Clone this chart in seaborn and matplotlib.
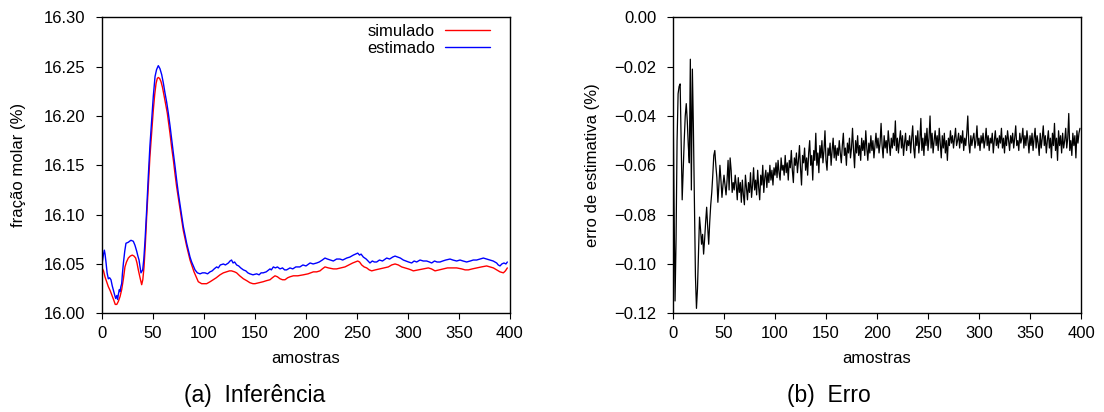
import matplotlib
matplotlib.use("Agg")
import matplotlib.pyplot as plt
import seaborn as sns
import numpy as np
import pandas as pd

# ---------------- data ----------------
amostras_sim = [0, 1.5, 2.9, 4.5, 6.2, 8, 9.5, 11.3, 13, 14.5, 16, 17.7, 19.3, 21, 22.5, 24, 25.8, 27.7, 29.7, 31.4,
                33, 34.3, 35.6, 37.3, 38.9, 40, 41.2, 42.5, 43.8, 45.4, 47, 48.7, 50.3, 51.7, 53, 54.2, 55.2, 56.5, 57.8, 59.3,
                60.8, 62.4, 64, 65.3, 66.7, 68.3, 70, 71.6, 73.2, 74.8, 76.5, 78.1, 79.7, 81.4, 83, 84.7, 86.3, 88.2, 90.2, 92.3,
                94.4, 96, 97.7, 100, 102.6, 106, 109, 112, 115.7, 119, 122, 125, 127, 130, 132, 135, 138.6, 142, 145, 148,
                150, 154, 158, 161, 164.7, 167, 169.6, 172, 174.5, 177, 179.4, 182, 184.3, 187.6, 192, 197.4, 202, 207.2, 210.5, 213.7,
                216, 218.6, 222, 226.8, 230, 234, 238.2, 242, 245.8, 250.7, 252.5, 254.6, 257, 259.5, 262, 264.4, 268, 272.5, 276.5, 280.7,
                284, 287.3, 290.5, 293.8, 297, 300.3, 303, 305.2, 310, 315, 319.9, 323, 326.5, 330.5, 334.6, 338.7, 342.8, 347.7, 352.6, 356,
                359.2, 363, 367.3, 372, 377.1, 380.5, 383.7, 387, 390.2, 393.5, 395.5, 397.4]
fracao_sim = [16.046, 16.043, 16.037, 16.032, 16.027, 16.023, 16.019, 16.014, 16.009, 16.009, 16.012, 16.017, 16.024, 16.035, 16.047, 16.052, 16.056, 16.058, 16.059, 16.058,
              16.056, 16.051, 16.044, 16.036, 16.029, 16.034, 16.047, 16.070, 16.098, 16.129, 16.159, 16.184, 16.206, 16.222, 16.233, 16.238, 16.239, 16.238, 16.235, 16.229,
              16.221, 16.212, 16.203, 16.193, 16.182, 16.168, 16.155, 16.141, 16.128, 16.117, 16.106, 16.095, 16.084, 16.076, 16.068, 16.061, 16.054, 16.048, 16.042, 16.037,
              16.032, 16.031, 16.030, 16.030, 16.030, 16.032, 16.034, 16.036, 16.039, 16.041, 16.042, 16.043, 16.043, 16.042, 16.041, 16.038, 16.035, 16.033, 16.031, 16.030,
              16.030, 16.031, 16.032, 16.033, 16.034, 16.036, 16.038, 16.037, 16.035, 16.034, 16.034, 16.036, 16.037, 16.038, 16.038, 16.039, 16.040, 16.042, 16.042, 16.043,
              16.045, 16.047, 16.046, 16.045, 16.045, 16.046, 16.047, 16.049, 16.051, 16.053, 16.052, 16.049, 16.047, 16.046, 16.044, 16.043, 16.044, 16.045, 16.046, 16.047,
              16.049, 16.050, 16.049, 16.047, 16.046, 16.045, 16.044, 16.043, 16.044, 16.045, 16.046, 16.045, 16.043, 16.044, 16.045, 16.046, 16.046, 16.046, 16.045, 16.044,
              16.044, 16.045, 16.046, 16.047, 16.048, 16.047, 16.046, 16.044, 16.042, 16.041, 16.043, 16.046]

amostras_est = [0, 1.5, 2.3, 3, 4, 5, 6.2, 7.5, 8.8, 10, 11, 12.3, 13.4, 14.5, 15.3, 16, 17, 17.6, 18.5, 19.3,
                20, 21, 22.3, 23.5, 25.8, 27, 28.4, 30.7, 32.3, 34, 35.2, 36.3, 38.2, 39.9, 41, 42.2, 43.8, 45.4, 47, 48.7,
                50.3, 52, 53.5, 55.2, 56.8, 58.5, 60.2, 61.8, 63.4, 65, 66.7, 68.3, 70, 71.6, 73.2, 74.8, 76.5, 78.1, 79.7, 81.4,
                83, 84.6, 86.3, 87.9, 89.5, 91.2, 93.5, 96.1, 98.5, 101, 103.5, 105.9, 108, 110, 112.4, 114, 116, 119, 121, 123.9,
                125.5, 127, 128.5, 130, 132, 134, 136, 138.6, 141, 143, 145, 148, 151.6, 154, 156, 158, 161, 164.7, 166, 168,
                170, 172, 174.5, 177, 179, 181, 184.3, 187, 190, 194, 197, 200, 204, 207, 210.5, 213, 216, 218.6, 221, 224,
                226.8, 230, 233.3, 236, 239.9, 243, 246.4, 248.5, 250.7, 252.5, 254, 256.2, 259, 262.7, 265, 267, 269.3, 272, 275, 279.1,
                282, 285, 287.3, 290, 292.5, 295.4, 298, 300.5, 303.6, 306, 308.5, 311.8, 315, 318.3, 321, 323.2, 326, 328.5, 331.4, 334,
                337, 341.2, 344, 347.7, 351, 354, 357.5, 361, 364, 367.3, 370.5, 373.9, 377, 380.4, 383.5, 386.9, 388.5, 390.2, 392, 394.1,
                396, 397.4]
fracao_est = [16.050, 16.060, 16.064, 16.060, 16.051, 16.041, 16.035, 16.036, 16.034, 16.028, 16.024, 16.019, 16.015, 16.018, 16.014, 16.019, 16.024, 16.022, 16.027, 16.030,
              16.040, 16.051, 16.063, 16.071, 16.072, 16.073, 16.074, 16.073, 16.069, 16.063, 16.058, 16.054, 16.041, 16.044, 16.055, 16.074, 16.105, 16.139, 16.170, 16.196,
              16.220, 16.240, 16.247, 16.251, 16.248, 16.242, 16.233, 16.223, 16.214, 16.203, 16.190, 16.176, 16.162, 16.149, 16.135, 16.122, 16.110, 16.098, 16.088, 16.079,
              16.071, 16.064, 16.057, 16.052, 16.048, 16.044, 16.041, 16.040, 16.041, 16.041, 16.040, 16.042, 16.043, 16.045, 16.047, 16.046, 16.049, 16.050, 16.049, 16.051,
              16.053, 16.054, 16.051, 16.052, 16.049, 16.048, 16.046, 16.044, 16.043, 16.041, 16.040, 16.039, 16.040, 16.039, 16.041, 16.041, 16.042, 16.045, 16.044, 16.047,
              16.046, 16.047, 16.045, 16.046, 16.044, 16.044, 16.046, 16.045, 16.047, 16.047, 16.049, 16.048, 16.051, 16.050, 16.051, 16.052, 16.054, 16.056, 16.055, 16.054,
              16.053, 16.055, 16.055, 16.054, 16.056, 16.057, 16.059, 16.060, 16.061, 16.059, 16.060, 16.057, 16.055, 16.051, 16.053, 16.052, 16.052, 16.054, 16.053, 16.056,
              16.055, 16.057, 16.058, 16.057, 16.056, 16.054, 16.053, 16.052, 16.051, 16.053, 16.052, 16.054, 16.053, 16.053, 16.052, 16.051, 16.053, 16.052, 16.052, 16.053,
              16.054, 16.055, 16.054, 16.053, 16.054, 16.053, 16.052, 16.053, 16.054, 16.054, 16.055, 16.056, 16.055, 16.054, 16.053, 16.051, 16.049, 16.048, 16.050, 16.051,
              16.050, 16.052]

erro = [
    -0.029, -0.075, -0.115, -0.090, -0.050, -0.031, -0.028, -0.027, -0.050, -0.074,
    -0.062, -0.050, -0.040, -0.035, -0.042, -0.052, -0.059, -0.017, -0.070, -0.021,
    -0.045, -0.075, -0.105, -0.118, -0.110, -0.095, -0.081, -0.086, -0.092, -0.088,
    -0.096, -0.090, -0.083, -0.077, -0.085, -0.092, -0.083, -0.076, -0.071, -0.064,
    -0.056, -0.054, -0.060, -0.065, -0.075, -0.068, -0.060, -0.066, -0.073, -0.068,
    -0.064, -0.068, -0.072, -0.066, -0.058, -0.070, -0.057, -0.062, -0.071, -0.067,
    -0.070, -0.064, -0.068, -0.074, -0.065, -0.071, -0.067, -0.075, -0.066, -0.072,
    -0.076, -0.064, -0.069, -0.074, -0.067, -0.071, -0.063, -0.073, -0.068, -0.061,
    -0.070, -0.066, -0.072, -0.062, -0.069, -0.074, -0.064, -0.068, -0.060, -0.071,
    -0.065, -0.062, -0.069, -0.063, -0.067, -0.060, -0.066, -0.062, -0.068, -0.061,
    -0.064, -0.059, -0.065, -0.058, -0.063, -0.066, -0.057, -0.062, -0.060, -0.064,
    -0.056, -0.063, -0.059, -0.066, -0.058, -0.061, -0.054, -0.062, -0.067, -0.057,
    -0.060, -0.055, -0.063, -0.058, -0.052, -0.061, -0.068, -0.056, -0.059, -0.053,
    -0.062, -0.057, -0.064, -0.055, -0.050, -0.060, -0.056, -0.066, -0.054, -0.058,
    -0.047, -0.060, -0.055, -0.063, -0.052, -0.057, -0.050, -0.059, -0.054, -0.046,
    -0.058, -0.062, -0.053, -0.056, -0.051, -0.060, -0.054, -0.049, -0.057, -0.052,
    -0.058, -0.053, -0.056, -0.050, -0.055, -0.059, -0.052, -0.047, -0.056, -0.053,
    -0.060, -0.051, -0.055, -0.049, -0.057, -0.053, -0.045, -0.054, -0.061, -0.050,
    -0.055, -0.048, -0.056, -0.052, -0.058, -0.049, -0.054, -0.050, -0.056, -0.046,
    -0.053, -0.058, -0.051, -0.055, -0.048, -0.054, -0.050, -0.057, -0.052, -0.047,
    -0.053, -0.049, -0.055, -0.051, -0.043, -0.052, -0.057, -0.048, -0.053, -0.050,
    -0.055, -0.046, -0.051, -0.056, -0.049, -0.053, -0.047, -0.052, -0.042, -0.054,
    -0.049, -0.055, -0.050, -0.046, -0.053, -0.048, -0.056, -0.051, -0.047, -0.054,
    -0.050, -0.052, -0.048, -0.055, -0.049, -0.044, -0.053, -0.057, -0.048, -0.052,
    -0.046, -0.055, -0.050, -0.041, -0.054, -0.049, -0.056, -0.047, -0.052, -0.045,
    -0.054, -0.049, -0.040, -0.053, -0.047, -0.055, -0.050, -0.046, -0.052, -0.048,
    -0.054, -0.045, -0.051, -0.057, -0.048, -0.053, -0.047, -0.055, -0.050, -0.058,
    -0.049, -0.052, -0.046, -0.051, -0.048, -0.053, -0.049, -0.045, -0.052, -0.050,
    -0.047, -0.053, -0.048, -0.051, -0.046, -0.054, -0.049, -0.052, -0.047, -0.040,
    -0.051, -0.055, -0.048, -0.052, -0.049, -0.047, -0.053, -0.050, -0.044, -0.052,
    -0.049, -0.054, -0.048, -0.051, -0.047, -0.053, -0.050, -0.045, -0.052, -0.048,
    -0.054, -0.049, -0.051, -0.047, -0.055, -0.050, -0.046, -0.052, -0.049, -0.053,
    -0.048, -0.051, -0.045, -0.053, -0.049, -0.055, -0.048, -0.052, -0.046, -0.050,
    -0.054, -0.048, -0.051, -0.047, -0.053, -0.049, -0.044, -0.052, -0.050, -0.054,
    -0.047, -0.051, -0.049, -0.045, -0.053, -0.048, -0.052, -0.046, -0.050, -0.055,
    -0.048, -0.052, -0.047, -0.054, -0.049, -0.045, -0.053, -0.048, -0.051, -0.056,
    -0.047, -0.053, -0.049, -0.044, -0.052, -0.048, -0.055, -0.050, -0.046, -0.053,
    -0.049, -0.057, -0.047, -0.052, -0.043, -0.054, -0.049, -0.058, -0.046, -0.052,
    -0.048, -0.055, -0.047, -0.053, -0.050, -0.045, -0.053, -0.049, -0.039, -0.054,
    -0.050, -0.056, -0.047, -0.052, -0.048, -0.057, -0.046, -0.051, -0.047, -0.045,
]
amostras_erro = list(range(len(erro)))

xticks = [0, 50, 100, 150, 200, 250, 300, 350, 400]
yticks_a = [16.00, 16.05, 16.10, 16.15, 16.20, 16.25, 16.30]
yticks_b = [-0.12, -0.10, -0.08, -0.06, -0.04, -0.02, 0.00]

# ---------------- style ----------------
sns.set_theme(style="ticks")
plt.rcParams['font.family'] = ['Liberation Sans', 'DejaVu Sans']
plt.rcParams['axes.unicode_minus'] = True
plt.rcParams['text.color'] = 'black'
plt.rcParams['axes.labelcolor'] = 'black'

W, H = 1104, 412
fig = plt.figure(figsize=(W / 100, H / 100), dpi=100)
ax1 = fig.add_axes([102 / W, (H - 313.3) / H, 408 / W, 296 / H])
ax2 = fig.add_axes([673 / W, (H - 313.3) / H, 408 / W, 296 / H])

df_sim = pd.DataFrame({"amostras": amostras_sim, "valor": fracao_sim})
df_est = pd.DataFrame({"amostras": amostras_est, "valor": fracao_est})
df_err = pd.DataFrame({"amostras": amostras_erro, "valor": erro})

sns.lineplot(data=df_sim, x="amostras", y="valor", color="#ff0000", lw=1.0,
             estimator=None, sort=False, ax=ax1, label="simulado")
sns.lineplot(data=df_est, x="amostras", y="valor", color="#0000ff", lw=1.0,
             estimator=None, sort=False, ax=ax1, label="estimado")
sns.lineplot(data=df_err, x="amostras", y="valor", color="black", lw=0.9,
             estimator=None, sort=False, ax=ax2, legend=False)

for ax, yt, ylab, lx in [
    (ax1, yticks_a, "fração molar (%)", -0.186),
    (ax2, yticks_b, "erro de estimativa (%)", -0.179),
]:
    ax.set_xlim(0, 400)
    ax.set_ylim(yt[0], yt[-1])
    ax.set_xticks(xticks)
    ax.set_xticklabels([str(t) for t in xticks])
    ax.set_yticks(yt)
    ax.set_yticklabels(["{:.2f}".format(t).replace("-", "\u2212") for t in yt])
    ax.tick_params(axis="both", direction="out", length=4, width=0.8,
                   colors="black", labelsize=12, top=False, right=False)
    ax.tick_params(axis="y", pad=8)
    ax.tick_params(axis="x", pad=5)
    for s in ax.spines.values():
        s.set_visible(True)
        s.set_color("black")
        s.set_linewidth(1.0)
    ax.set_xlabel("amostras", fontsize=12, color="black")
    ax.set_ylabel(ylab, fontsize=12, color="black")
    ax.xaxis.set_label_coords(0.5, -0.128)
    ax.yaxis.set_label_coords(lx, 0.5)
    ax.grid(False)

leg = ax1.legend(loc="upper right", bbox_to_anchor=(0.959, 0.99), frameon=False,
                 markerfirst=False, fontsize=12, handlelength=2.7, handletextpad=0.6,
                 labelspacing=0.15, borderpad=0.2, borderaxespad=0.0)
for t in leg.get_texts():
    t.set_color("black")

fig.text(254.5 / W, 1 - 401.7 / H, "(a)  Inferência", ha="center", va="baseline",
         fontsize=16.5, color="black")
fig.text(829 / W, 1 - 401.7 / H, "(b)  Erro", ha="center", va="baseline",
         fontsize=16.5, color="black")

fig.savefig("out.png", dpi=100)
